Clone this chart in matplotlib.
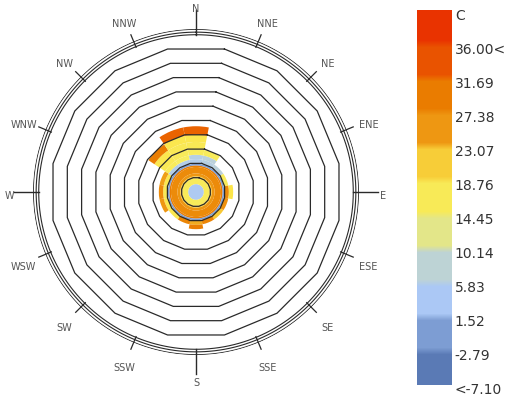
import numpy as np
import matplotlib.pyplot as plt
from matplotlib.colors import LinearSegmentedColormap, Normalize
from matplotlib.transforms import offset_copy

# direction labels, clockwise from north
directions = ['N', 'NNE', 'NE', 'ENE', 'E', 'ESE', 'SE', 'SSE',
              'S', 'SSW', 'SW', 'WSW', 'W', 'WNW', 'NW', 'NNW']

# rings shared by every direction (radius edges, temperature C)
inner_edges = [0.0, 0.55, 0.95, 1.1, 1.3, 1.75, 1.86, 1.98]
inner_temps = [5.0, 17.0, 21.0, 26.0, 28.0, 30.0, 0.0]

# per-direction outer bins (nan = empty)
outer_edges = [1.98, 2.3, 2.6, 3.0, 3.5, 4.0, 4.6]
nan = np.nan
outer_temps = [
    [6.0, 7.0, 17.0, 18.0, 19.0, 33.0],     # N
    [7.0, 8.0, 17.0, nan, nan, nan],        # NNE
    [8.0, nan, nan, nan, nan, nan],         # NE
    [17.0, nan, nan, nan, nan, nan],        # ENE
    [28.0, 20.0, nan, nan, nan, nan],       # E
    [27.0, nan, nan, nan, nan, nan],        # ESE
    [22.0, nan, nan, nan, nan, nan],        # SE
    [29.0, nan, nan, nan, nan, nan],        # SSE
    [24.0, 30.0, nan, nan, nan, nan],       # S
    [29.0, nan, nan, nan, nan, nan],        # SSW
    [19.0, nan, nan, nan, nan, nan],        # SW
    [19.0, 26.0, nan, nan, nan, nan],       # WSW
    [18.0, 28.0, nan, nan, nan, nan],       # W
    [19.0, 25.0, nan, nan, nan, nan],       # WNW
    [6.0, 17.0, 18.0, 19.0, 30.0, nan],     # NW
    [6.0, 16.0, 17.0, 18.0, 19.0, 33.0],    # NNW
]

# legend
legend_labels = ['<-7.10', '-2.79', '1.52', '5.83', '10.14', '14.45',
                 '18.76', '23.07', '27.38', '31.69', '36.00<', 'C']
legend_start = -7.10
legend_step = 4.31

lb_colors = [(75, 107, 169), (115, 147, 202), (170, 200, 247), (193, 213, 208),
             (245, 239, 103), (252, 230, 74), (239, 156, 21), (234, 123, 0),
             (234, 74, 0), (234, 38, 0)]
cmap = LinearSegmentedColormap.from_list('lb', [tuple(c / 255. for c in rgb) for rgb in lb_colors])

W, H = 528, 401
fig = plt.figure(figsize=(W / 100., H / 100.), dpi=100)

# legend bar geometry (pixels), value axis follows label spacing
bx0, bx1, by0, by1 = 417, 452, 10, 385
lab_y0, lab_dy = 390, 34.0


def y2val(y):
    return legend_start + (lab_y0 - y) / lab_dy * legend_step


norm = Normalize(vmin=y2val(by1), vmax=y2val(by0))

# polar rose
cx, cy, R = 196, 192, 163
rmax = 11.4
ax = fig.add_axes([(cx - R) / W, (H - cy - R) / H, 2 * R / W, 2 * R / H], projection='polar')
ax.set_theta_zero_location('N')
ax.set_theta_direction(-1)
ax.set_ylim(0, rmax)
ax.axis('off')

n = len(directions)
width = 2 * np.pi / n
theta = np.arange(n) * width

# inner rings, full annuli
for k, t in enumerate(inner_temps):
    ax.bar(0, inner_edges[k + 1] - inner_edges[k], width=2 * np.pi, bottom=inner_edges[k],
           color=cmap(norm(t)), edgecolor='none', linewidth=0)

# outer bars
for i in range(n):
    for k, t in enumerate(outer_temps[i]):
        if np.isnan(t):
            continue
        ax.bar(theta[i], outer_edges[k + 1] - outer_edges[k], width=width, bottom=outer_edges[k],
               color=cmap(norm(t)), edgecolor='none', linewidth=0)

# 16-gon rings, flat side facing each direction
verts = np.arange(n + 1) * width + width / 2
for r in range(1, 11):
    ax.plot(verts, np.full(n + 1, r / np.cos(width / 2)), color='#2a2a2a', lw=0.9)

# outer circles
circ = np.linspace(0, 2 * np.pi, 400)
for r in [11.0, 11.18, 11.38]:
    ax.plot(circ, np.full_like(circ, r), color='#2a2a2a', lw=0.8)

# direction ticks and labels
lab_tr = offset_copy(ax.transData, fig=fig, x=0, y=-4, units='dots')
for i, d in enumerate(directions):
    if i % 4 == 0:
        ax.plot([theta[i], theta[i]], [11.0, 12.7], color='#2a2a2a', lw=1.0, clip_on=False)
    else:
        ax.plot([theta[i], theta[i]], [10.95, 11.9], color='#2a2a2a', lw=0.9, clip_on=False)
    ax.text(theta[i], 13.05, d, transform=lab_tr, ha='center', va='center',
            fontsize=7, color='#555555', clip_on=False)

# legend bar: 11 blocks sampled along the gradient, softened a little
cax = fig.add_axes([bx0 / W, (H - by1) / H, (bx1 - bx0) / W, (by1 - by0) / H])
nrows = by1 - by0
frac = (np.arange(nrows) + 0.5) / nrows
block = (np.floor(frac * 11) + 0.5) / 11
rgb = cmap(block)[:, :3]
kern = np.ones(7) / 7.
rgb = np.stack([np.convolve(np.pad(rgb[:, c], 3, mode='edge'), kern, mode='valid') for c in range(3)], axis=1)
cax.imshow(rgb.reshape(nrows, 1, 3), aspect='auto', origin='lower',
           extent=[0, 1, norm.vmin, norm.vmax])
cax.set_ylim(norm.vmin, norm.vmax)
cax.axis('off')
for k, lab in enumerate(legend_labels):
    v = legend_start + k * legend_step
    cax.text(1.08, v, lab, transform=cax.get_yaxis_transform(), ha='left', va='center',
             fontsize=10, color='#333333', clip_on=False)

fig.savefig('out.png', dpi=100)
